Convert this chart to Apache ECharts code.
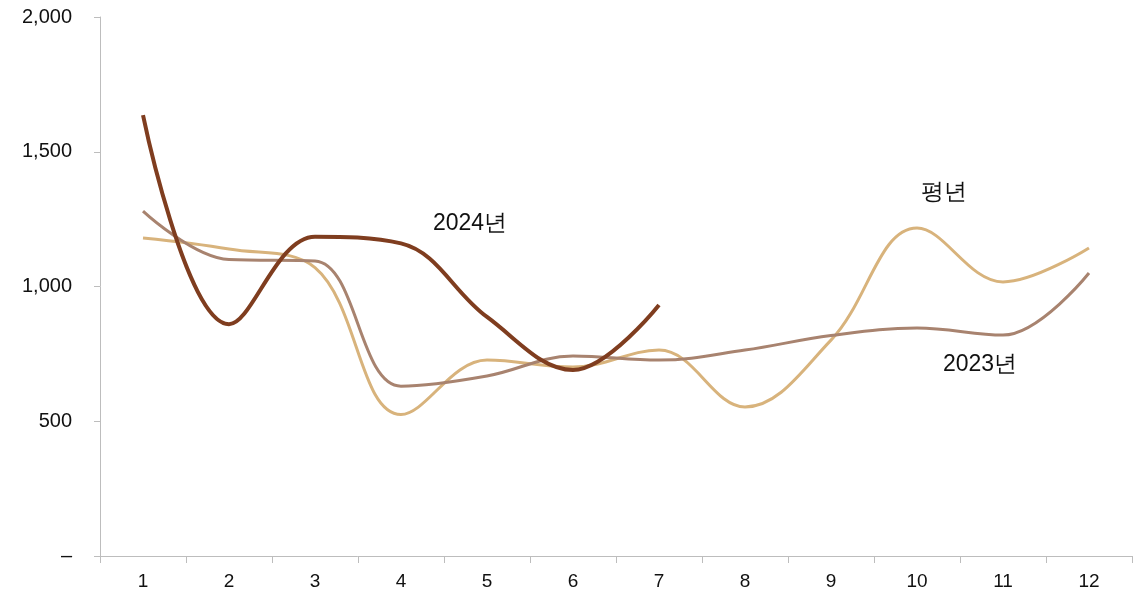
<!DOCTYPE html>
<html>
<head>
<meta charset="utf-8">
<script src="https://cdn.jsdelivr.net/npm/echarts@6/dist/echarts.min.js"></script>
<style>
  html, body { margin: 0; padding: 0; background: #fff; }
  #chart { width: 1142px; height: 597px; }
</style>
</head>
<body>
<div id="chart"></div>
<script>
// months on the x axis
const months = ['1', '2', '3', '4', '5', '6', '7', '8', '9', '10', '11', '12'];

// values
const y2024 = [1636, 860, 1185, 1160, 887, 690, 931];
const y2023 = [1280, 1100, 1095, 630, 668, 742, 727, 764, 818, 846, 820, 1050];
const normal = [1180, 1139, 1070, 525, 727, 701, 764, 553, 801, 1217, 1017, 1143];

const yTicks = [0, 500, 1000, 1500, 2000];

const chart = echarts.init(document.getElementById('chart'));

const axisColor = '#bdbdbd';
const font = 'Liberation Sans, Arial, sans-serif';
const smooth = 0.38;

chart.setOption({
  animation: false,
  grid: { left: 100, right: 10, top: 17, bottom: 41 },
  xAxis: {
    type: 'category',
    data: months,
    axisLine: { lineStyle: { color: axisColor, width: 1 } },
    axisTick: { show: true, length: 7, lineStyle: { color: axisColor } },
    axisLabel: { color: '#111', fontSize: 19, fontFamily: font, margin: 16 }
  },
  yAxis: {
    type: 'value',
    min: yTicks[0],
    max: yTicks[yTicks.length - 1],
    interval: 500,
    axisLine: { show: true, lineStyle: { color: axisColor, width: 1 } },
    axisTick: { show: true, length: 6, lineStyle: { color: axisColor } },
    splitLine: { show: false },
    axisLabel: {
      color: '#111', fontSize: 20, fontFamily: font, margin: 28,
      formatter: v => v === 0 ? '–' : v.toLocaleString('en-US')
    }
  },
  series: [
    {
      name: '평년', type: 'line', data: normal, smooth: smooth, symbol: 'none',
      lineStyle: { color: '#d8b37c', width: 3 }
    },
    {
      name: '2023년', type: 'line', data: y2023, smooth: smooth, symbol: 'none',
      lineStyle: { color: '#a8836f', width: 3 }
    },
    {
      name: '2024년', type: 'line', data: y2024, smooth: smooth, symbol: 'none',
      lineStyle: { color: '#7f3d1f', width: 4 }
    }
  ],
  graphic: [
    { type: 'text', left: 433, top: 212, style: { text: '2024년', fontSize: 23, fontFamily: font, fill: '#111' } },
    { type: 'text', left: 921, top: 181, style: { text: '평년', fontSize: 23, fontFamily: font, fill: '#111' } },
    { type: 'text', left: 943, top: 353, style: { text: '2023년', fontSize: 23, fontFamily: font, fill: '#111' } }
  ]
});
</script>
</body>
</html>
